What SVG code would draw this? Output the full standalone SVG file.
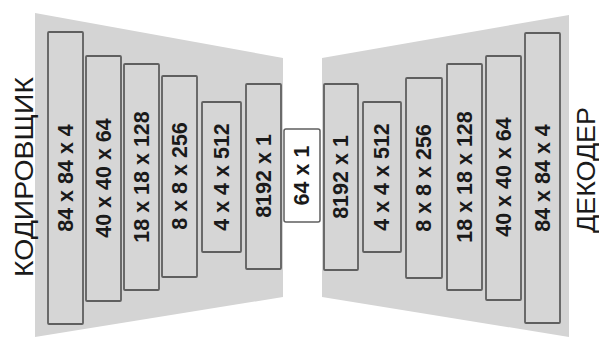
<svg xmlns="http://www.w3.org/2000/svg" width="599" height="337" viewBox="0 0 599 337">
<style>
.bg{fill:#d4d4d4;stroke:none}
.box{fill:#d6d6d6;stroke:#5f5f5f;stroke-width:1.8}
.cbox{fill:#ffffff;stroke:#5f5f5f;stroke-width:1.5}
.lbl{font-family:"Liberation Sans",Arial,sans-serif;font-weight:bold;font-size:21.5px;fill:#1a1a1a;text-anchor:middle;dominant-baseline:central}
.ttl{font-family:"Liberation Sans",Arial,sans-serif;font-size:25px;fill:#1a1a1a;text-anchor:middle;dominant-baseline:central}
</style>
<rect width="599" height="337" fill="#ffffff"/>
<g id="encoder-bg"><polygon class="bg" points="35,13 283,58 283,297 35,337"/></g>
<g id="decoder-bg"><polygon class="bg" points="322,58 569,15 569,337 322,297"/></g>
<g id="enc1"><rect class="box" x="48" y="32" width="35" height="292" rx="1"/><text class="lbl" transform="translate(65.5,178) rotate(-90)">84 x 84 x 4</text></g>
<g id="enc2"><rect class="box" x="86" y="56" width="35" height="245" rx="1"/><text class="lbl" transform="translate(103.5,178) rotate(-90)">40 x 40 x 64</text></g>
<g id="enc3"><rect class="box" x="124" y="64" width="35" height="226" rx="1"/><text class="lbl" transform="translate(141.5,177) rotate(-90)">18 x 18 x 128</text></g>
<g id="enc4"><rect class="box" x="162" y="76" width="35" height="201" rx="1"/><text class="lbl" transform="translate(179.5,176) rotate(-90)">8 x 8 x 256</text></g>
<g id="enc5"><rect class="box" x="202" y="102" width="39" height="150" rx="1"/><text class="lbl" transform="translate(221.5,177) rotate(-90)">4 x 4 x 512</text></g>
<g id="enc6"><rect class="box" x="246" y="84" width="35" height="185" rx="1"/><text class="lbl" transform="translate(263.5,176) rotate(-90)">8192 x 1</text></g>
<g id="latent"><rect class="cbox" x="284" y="129" width="36" height="93" rx="2"/><text class="lbl" transform="translate(302,175.5) rotate(-90)">64 x 1</text></g>
<g id="dec1"><rect class="box" x="324" y="84" width="34" height="186" rx="1"/><text class="lbl" transform="translate(341,177) rotate(-90)">8192 x 1</text></g>
<g id="dec2"><rect class="box" x="363" y="102" width="38" height="150" rx="1"/><text class="lbl" transform="translate(382,177) rotate(-90)">4 x 4 x 512</text></g>
<g id="dec3"><rect class="box" x="406" y="78" width="36" height="200" rx="1"/><text class="lbl" transform="translate(424,178) rotate(-90)">8 x 8 x 256</text></g>
<g id="dec4"><rect class="box" x="447" y="64" width="35" height="226" rx="1"/><text class="lbl" transform="translate(464.5,177) rotate(-90)">18 x 18 x 128</text></g>
<g id="dec5"><rect class="box" x="486" y="56" width="35" height="244" rx="1"/><text class="lbl" transform="translate(503.5,177) rotate(-90)">40 x 40 x 64</text></g>
<g id="dec6"><rect class="box" x="525" y="33" width="35" height="290" rx="1"/><text class="lbl" transform="translate(542.5,178) rotate(-90)">84 x 84 x 4</text></g>
<g id="title-encoder"><text class="ttl" transform="translate(24,177) rotate(-90)" textLength="200" lengthAdjust="spacingAndGlyphs">КОДИРОВЩИК</text></g>
<g id="title-decoder"><text class="ttl" transform="translate(586,170) rotate(-90)" textLength="126" lengthAdjust="spacingAndGlyphs">ДЕКОДЕР</text></g>
</svg>
